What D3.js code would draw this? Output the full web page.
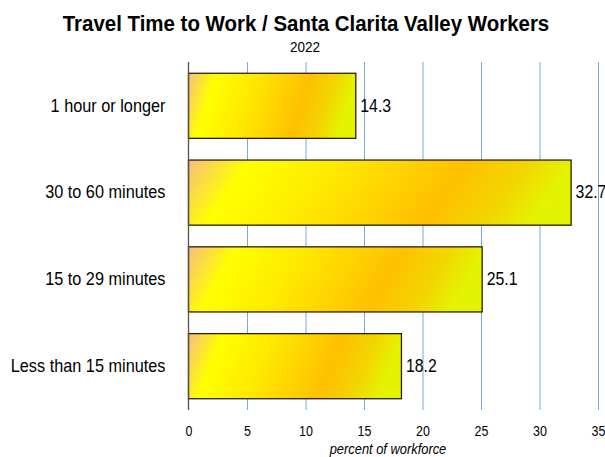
<!DOCTYPE html>
<html>
<head>
<meta charset="utf-8">
<script src="https://cdn.jsdelivr.net/npm/d3@7"></script>
<style>
  body { margin: 0; background: #fff; }
  svg text { font-family: "Liberation Sans", Arial, sans-serif; fill: #000; }
</style>
</head>
<body>
<div id="chart"></div>
<script>
// travel time categories, top to bottom
const categories = ["1 hour or longer", "30 to 60 minutes", "15 to 29 minutes", "Less than 15 minutes"];
const shares = [14.3, 32.7, 25.1, 18.2];
const xTicks = [0, 5, 10, 15, 20, 25, 30, 35];

const data = categories.map((c, i) => ({ cat: c, value: shares[i] }));

const width = 605,
      height = 457,
      margin = ({ top: 62, right: 7, bottom: 47, left: 188.5 });

// squeeze text horizontally (original uses a narrow font)
function condense(sel, s) {
    sel.each(function () {
        let t = d3.select(this);
        let tx = +t.attr("x") || 0, ty = +t.attr("y") || 0;
        t.attr("x", 0).attr("y", 0)
         .attr("transform", `translate(${tx},${ty}) scale(${s},1)`);
    });
}

let svg = d3.select("#chart")
    .append("svg")
    .attr("width", width)
    .attr("height", height)
    .attr("viewBox", [0, 0, width, height]);

// gradient fill like the original spreadsheet chart
let grad = svg.append("defs").append("linearGradient")
    .attr("id", "barfill")
    .attr("x1", 0).attr("y1", 0)
    .attr("x2", 1).attr("y2", 0.12);
[["0%", "#f8bd80"], ["16%", "#ffff00"], ["40%", "#ffe800"], ["72%", "#ffc000"], ["88%", "#f2d600"], ["100%", "#e4f400"]]
    .forEach(s => grad.append("stop").attr("offset", s[0]).attr("stop-color", s[1]));

let x = d3.scaleLinear()
    .domain([0, 35])
    .range([margin.left, width - margin.right]);

let y = d3.scaleBand()
    .domain(categories)
    .range([margin.top, height - margin.bottom])
    .paddingInner(0.25)
    .paddingOuter(0.13);

// vertical gridlines
svg.append("g")
    .selectAll("line")
    .data(xTicks.filter(t => t > 0))
    .join("line")
    .attr("x1", d => x(d) + 0.5).attr("x2", d => x(d) + 0.5)
    .attr("y1", margin.top).attr("y2", height - margin.bottom)
    .attr("stroke", "#7aa6dc")
    .attr("stroke-width", 1);

// x tick labels, no axis line
let xAxis = svg.append("g")
    .attr("transform", `translate(0,${height - margin.bottom})`)
    .call(d3.axisBottom(x).tickValues(xTicks).tickSize(0).tickPadding(16));
xAxis.select(".domain").remove();
xAxis.selectAll("text")
    .style("font-size", "14.5px")
    .style("font-family", null)
    .call(condense, 0.86);

// category labels
let yAxis = svg.append("g")
    .attr("transform", `translate(${margin.left},0)`)
    .call(d3.axisLeft(y).tickSize(0).tickPadding(23));
yAxis.select(".domain").remove();
yAxis.selectAll("text")
    .style("font-size", "17.7px")
    .style("font-family", null)
    .call(condense, 0.92);

let bar = svg.selectAll(".bar")
    .data(data)
    .join("g")
    .attr("class", "bar");

bar.append("rect")
    .attr("fill", "url(#barfill)")
    .attr("stroke", "#2a1f10")
    .attr("stroke-width", 1.3)
    .attr("x", x(0))
    .attr("width", d => x(d.value) - x(0))
    .attr("y", d => y(d.cat))
    .attr("height", y.bandwidth());

bar.append("text")
    .text(d => d.value.toFixed(1))
    .attr("x", d => x(d.value) + 4.5)
    .attr("y", d => y(d.cat) + y.bandwidth() / 2 + 1)
    .attr("dominant-baseline", "middle")
    .style("font-size", "18px")
    .call(condense, 0.88);

// zero line
svg.append("line")
    .attr("x1", x(0)).attr("x2", x(0))
    .attr("y1", margin.top).attr("y2", height - margin.bottom)
    .attr("stroke", "#5a5048")
    .attr("stroke-width", 1.3);

// titles (title slightly condensed like the original)
svg.append("text")
    .attr("transform", "translate(306,31) scale(0.93,1)")
    .attr("text-anchor", "middle")
    .style("font-size", "22px")
    .style("font-weight", "bold")
    .text("Travel Time to Work / Santa Clarita Valley Workers");

svg.append("text")
    .attr("transform", "translate(305,52) scale(0.9,1)")
    .attr("text-anchor", "middle")
    .style("font-size", "15px")
    .text("2022");

svg.append("text")
    .attr("transform", "translate(388,454) scale(0.92,1)")
    .attr("text-anchor", "middle")
    .style("font-size", "14px")
    .style("font-style", "italic")
    .text("percent of workforce");
</script>
</body>
</html>
